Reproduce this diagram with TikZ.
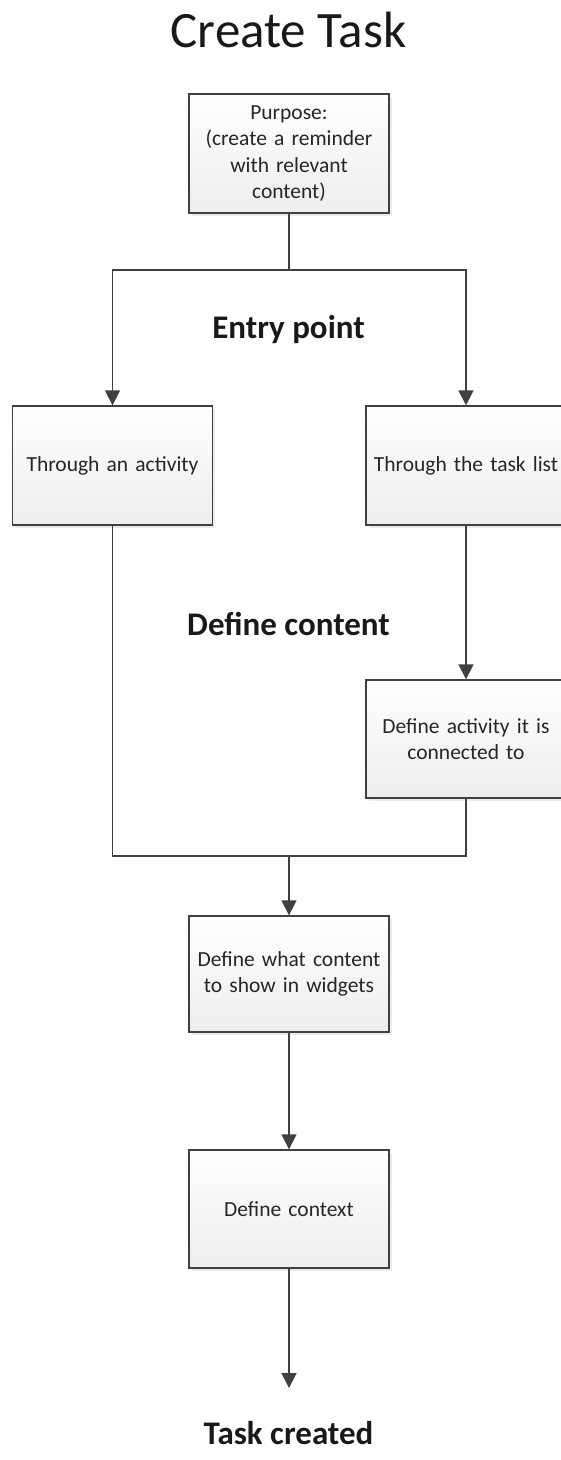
\documentclass[tikz,border=0pt]{standalone}
\usepackage{fontspec}
\setmainfont{Carlito}
\usetikzlibrary{arrows.meta,shadows}
\definecolor{edge}{HTML}{404040}
\begin{document}
\begin{tikzpicture}[x=1pt,y=-1pt,
  stepbox/.style={draw=edge, line width=1.4pt, top color=white, bottom color=black!7,
    minimum width=198pt, minimum height=119pt, inner sep=3pt, align=center,
    text width=194pt, font=\fontsize{21.5}{26.5}\selectfont, text=black!85,
    drop shadow={shadow xshift=2.5pt, shadow yshift=-3pt, opacity=0.2, fill=black!40}},
  heading/.style={font=\fontsize{33}{38}\selectfont\bfseries, anchor=base, text=black!90},
  link/.style={draw=edge, line width=1.6pt},
  flow/.style={link, -{Triangle[width=15pt,length=15pt]}}]
\useasboundingbox (0,0) rectangle (560,1460);

% title and section labels
\node[font=\fontsize{51}{56}\selectfont, anchor=base, text=black!90] (title) at (288.5,47) {Create Task};
\node[heading] (entry) at (288.5,338) {Entry point};
\node[heading] (define) at (288.5,635) {Define content};
\node[heading] (done) at (288.5,1444) {Task created};

% process steps
\node[stepbox] (purpose) at (289,153.5) {Purpose:\\(create a reminder\\with relevant\\content)};
\node[stepbox] (activity) at (112.5,465.5) {Through an activity};
\node[stepbox] (tasklist) at (466,465.5) {Through the task list};
\node[stepbox, minimum height=118pt] (connect) at (466,739) {Define activity it is\\connected to};
\node[stepbox, minimum height=116pt] (widgets) at (289,974) {Define what content\\to show in widgets};
\node[stepbox, minimum height=118pt] (context) at (289,1209) {Define context};

% junctions
\coordinate (split) at (289,270);
\coordinate (merge) at (289,856);
\coordinate (finish) at (289,1388);

% split into the two entry points
\draw[link] (purpose.south) -- (split);
\draw[flow] (split) -| (activity.north);
\draw[flow] (split) -| (tasklist.north);

% task list path needs an activity
\draw[flow] (tasklist.south) -- (connect.north);

% both paths join again
\draw[link] (activity.south) |- (merge);
\draw[link] (connect.south) |- (merge);
\draw[flow] (merge) -- (widgets.north);
\draw[flow] (widgets.south) -- (context.north);
\draw[flow] (context.south) -- (finish);
\end{tikzpicture}
\end{document}
